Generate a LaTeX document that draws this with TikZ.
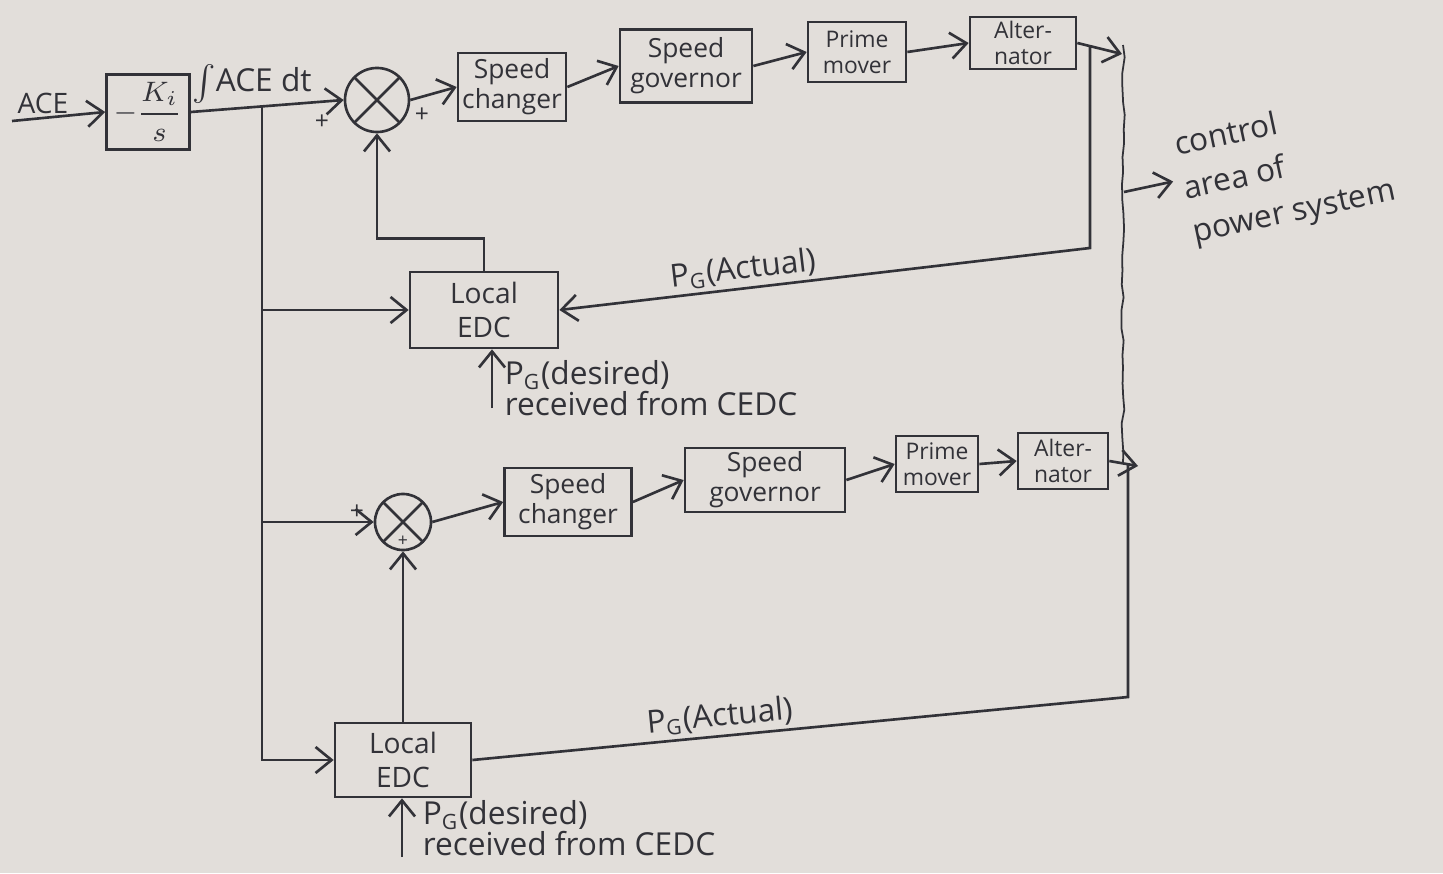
\documentclass[tikz,border=0pt]{standalone}
\usepackage{fontspec}
\setmainfont{Open Sans}
\usepackage{tikz}
\usetikzlibrary{arrows.meta, decorations.pathmorphing}

\definecolor{paper}{RGB}{226,222,218}
\definecolor{ink}{RGB}{50,50,56}

\begin{document}
\begin{tikzpicture}[
    x=0.01cm, y=-0.01cm,
    color=ink, line width=0.75pt,
    blk/.style={rectangle, draw, align=center, inner sep=0.5pt, font=\fontsize{7.5pt}{8.5pt}\selectfont},
    small blk/.style={blk, font=\fontsize{6.5pt}{7.5pt}\selectfont},
    summer/.style={circle, draw, minimum size=#1, inner sep=0pt,
        path picture={\draw (path picture bounding box.north west) -- (path picture bounding box.south east)
                            (path picture bounding box.north east) -- (path picture bounding box.south west);}},
    arr/.style={-{Straight Barb[length=1.6mm, width=2.6mm]}},
    sgn/.style={font=\scriptsize, inner sep=0pt},
    lbl/.style={font=\small\linespread{0.8}\selectfont, align=left, inner sep=1pt},
    wavy/.style={decorate, decoration={random steps, segment length=4pt, amplitude=0.5pt}},
]
% Paper
\fill[paper, use as bounding box] (0,0) rectangle (1443,873);

% Integral controller
\node[blk, font=\footnotesize, minimum width=0.83cm, minimum height=0.75cm] (ki) at (148,112) {$\displaystyle -\frac{K_i}{s}$};
\node[lbl, font=\footnotesize] (acelbl) at (43,103) {ACE};
\node[lbl] (intlbl) at (252,84) {$\int$ACE dt};

% Upper control area
\node[summer=0.64cm] (sum1) at (377,100) {};
\node[blk, minimum width=1.08cm, minimum height=0.68cm] (sc1) at (512,87) {Speed\\changer};
\node[blk, minimum width=1.32cm, minimum height=0.73cm] (sg1) at (686,66) {Speed\\governor};
\node[small blk, minimum width=0.98cm, minimum height=0.6cm] (pm1) at (857,52) {Prime\\mover};
\node[small blk, minimum width=1.06cm, minimum height=0.52cm] (alt1) at (1023,43) {Alter-\\nator};
\node[blk, font=\footnotesize, minimum width=1.48cm, minimum height=0.76cm] (edc1) at (484,310) {Local\\EDC};

% Lower control area
\node[summer=0.56cm] (sum2) at (403,522) {};
\node[blk, minimum width=1.27cm, minimum height=0.68cm] (sc2) at (568,502) {Speed\\changer};
\node[blk, minimum width=1.6cm, minimum height=0.64cm] (sg2) at (765,480) {Speed\\governor};
\node[small blk, minimum width=0.82cm, minimum height=0.56cm] (pm2) at (937,464) {Prime\\mover};
\node[small blk, minimum width=0.9cm, minimum height=0.56cm] (alt2) at (1063,461) {Alter-\\nator};
\node[blk, font=\footnotesize, minimum width=1.36cm, minimum height=0.74cm] (edc2) at (403,760) {Local\\EDC};

% Signs
\node[sgn] at (322,122) {+};
\node[sgn] at (422,115) {+};
\node[sgn] at (357,512) {+};
\node[sgn, font=\tiny] at (403,541) {+};

% Free ends and branch points
\coordinate (acein) at (12,121);
\coordinate (j1) at (262,106);
\coordinate (j2) at (262,310);
\coordinate (j3) at (262,522);
\coordinate (out1) at (1122,54);
\coordinate (fb1) at (1090,46);
\coordinate (fb1b) at (1090,248);
\coordinate (out2) at (1138,466);
\coordinate (fb2) at (1128,464);
\coordinate (fb2b) at (1128,697);
\coordinate (pd1) at (492,408);
\coordinate (pd2) at (402,857);
\coordinate (w1) at (1123,45);
\coordinate (w2) at (1123,462);
\coordinate (wm) at (1124,192);

% Input and integrator
\draw[arr] (acein) -- (ki.west);
\draw[arr] (ki.east) -- (sum1.west);
\draw[arr] (j1) |- (edc2.west);
\draw[arr] (j2) -- (edc1.west);
\draw[arr] (j3) -- (sum2.west);

% Upper forward path
\draw[arr] (sum1.east) -- (sc1.west);
\draw[arr] (sc1.east) -- (sg1.west);
\draw[arr] (sg1.east) -- (pm1.west);
\draw[arr] (pm1.east) -- (alt1.west);
\draw[arr] (alt1.east) -- (out1);

% Upper feedback
\draw[arr] (fb1) -- (fb1b) -- node[lbl, above, sloped, pos=0.65]{P\textsubscript{G}(Actual)} (edc1.east);
\draw[arr] (edc1.north) -- ++(0,-32) -| (sum1.south);
\draw[arr] (pd1) -- (pd1 |- edc1.south);
\node[lbl, anchor=north west] (des1) at (500,356) {P\textsubscript{G}(desired)\\received from CEDC};

% Lower forward path
\draw[arr] (sum2.east) -- (sc2.west);
\draw[arr] (sc2.east) -- (sg2.west);
\draw[arr] (sg2.east) -- (pm2.west);
\draw[arr] (pm2.east) -- (alt2.west);
\draw[arr] (alt2.east) -- (out2);

% Lower feedback
\draw (fb2) -- (fb2b) -- node[lbl, above, sloped, pos=0.62]{P\textsubscript{G}(Actual)} (edc2.east);
\draw[arr] (edc2.north) -- (sum2.south);
\draw[arr] (pd2) -- (pd2 |- edc2.south);
\node[lbl, anchor=north west] (des2) at (418,796) {P\textsubscript{G}(desired)\\received from CEDC};

% Control area boundary
\draw[wavy, line width=0.5pt] (w1) -- (w2);
\node[lbl, font=\small\linespread{1.15}\selectfont, rotate=12, anchor=west] (area) at (1180,192) {control\\area of\\power system};
\draw[arr, shorten >=2pt] (wm) -- ([yshift=0.12cm]area.west);

\end{tikzpicture}
\end{document}
